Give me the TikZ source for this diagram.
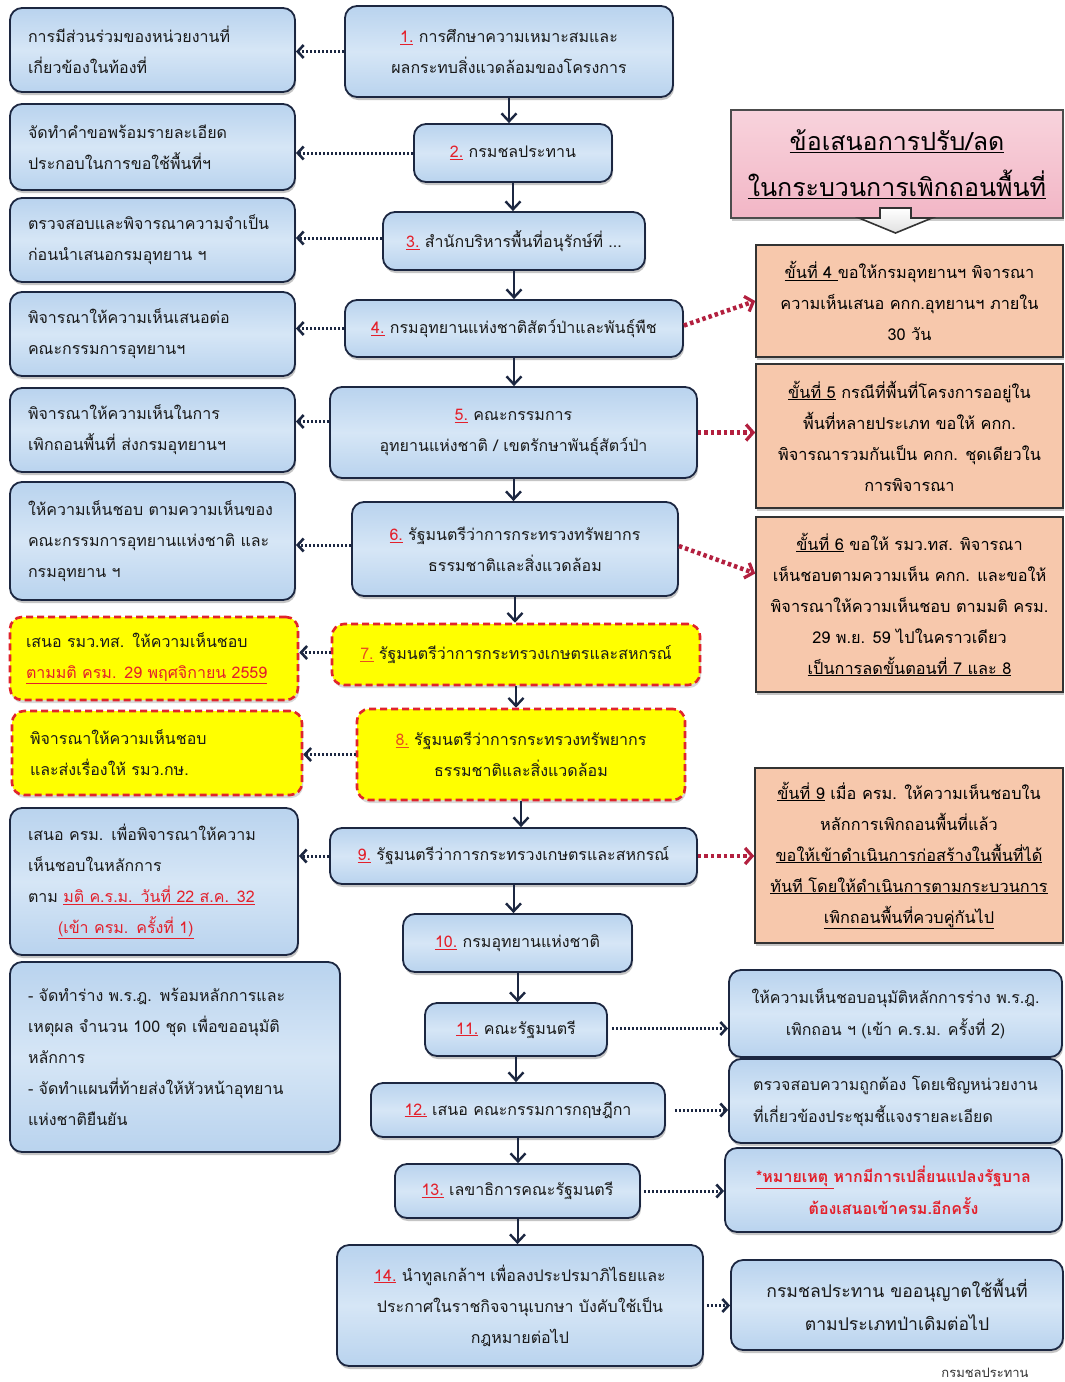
\documentclass[tikz,border=0pt]{standalone}
\usepackage{fontspec}
\setmainfont{Loma}[Script=Thai]
\usetikzlibrary{arrows.meta,shadows}
\definecolor{bfill}{HTML}{B9D3EE}
\definecolor{bfillL}{HTML}{D6E6F6}
\definecolor{navy}{HTML}{1C2741}
\definecolor{ylw}{HTML}{FFFF00}
\definecolor{dred}{HTML}{E0242C}
\definecolor{salmon}{HTML}{F7C8AC}
\definecolor{pinkc}{HTML}{F2B6C6}
\definecolor{pinkL}{HTML}{F8D3DC}
\definecolor{arrred}{HTML}{B3203F}
\definecolor{numred}{HTML}{E3202B}
\definecolor{numorg}{HTML}{E8501E}
\newcommand\stepno[1]{\textcolor{numred}{\underline{#1}}}
\newcommand\stepnoy[1]{\textcolor{numorg}{\underline{#1}}}
\newcommand\redul[1]{\textcolor{numred}{\underline{#1}}}
\begin{document}
\begin{tikzpicture}[x=1pt,y=-1pt,
  bluebox/.style={draw=navy, line width=1.8pt, rounded corners=12pt,
    top color=bfill, bottom color=bfill, middle color=bfillL,
    drop shadow={shadow xshift=1pt, shadow yshift=-3pt, fill=black!45},
    inner ysep=0pt, font=\fontsize{16}{31}\selectfont, text=black!90},
  lbox/.style={bluebox, align=left, inner xsep=18pt},
  cbox/.style={bluebox, align=center, inner xsep=6pt},
  ybox/.style={draw=dred, line width=2.6pt, dashed, dash pattern=on 7pt off 4pt,
    rounded corners=12pt, fill=ylw,
    drop shadow={shadow xshift=1pt, shadow yshift=-3pt, fill=black!30},
    inner ysep=0pt, font=\fontsize{16}{31}\selectfont, text=black!90},
  sbox/.style={draw=black!80, line width=1.6pt, fill=salmon,
    drop shadow={shadow xshift=1pt, shadow yshift=-3pt, fill=black!45},
    align=center, inner sep=0pt, font=\fontsize{16.3}{31}\selectfont},
  rbox/.style={bluebox, align=center, inner xsep=6pt, font=\fontsize{16}{32}\selectfont},
  darr/.style={navy, line width=3pt, dash pattern=on 2pt off 2pt,
    -{Straight Barb[length=6pt,width=13pt,line width=2.6pt]}},
  rarr/.style={arrred, line width=4.5pt, dash pattern=on 3.5pt off 3pt,
    -{Straight Barb[length=7pt,width=16pt,line width=3.2pt]}},
  varr/.style={navy, line width=2pt, -{Straight Barb[length=8pt,width=15pt,line width=2.4pt]}}
]
\useasboundingbox (0,0) rectangle (1065,1382);
\fill[white] (0,0) rectangle (1065,1382);

% ---------- left column ----------
\node[lbox, text width=249, minimum height=84] (L1) at (152.5,50)
  {การมีส่วนร่วมของหน่วยงานที่\\เกี่ยวข้องในท้องที่};
\node[lbox, text width=249, minimum height=86] (L2) at (152.5,147)
  {จัดทำคำขอพร้อมรายละเอียด\\ประกอบในการขอใช้พื้นที่ฯ};
\node[lbox, text width=249, minimum height=84] (L3) at (152.5,240)
  {ตรวจสอบและพิจารณาความจำเป็น\\ก่อนนำเสนอกรมอุทยาน ฯ};
\node[lbox, text width=249, minimum height=84] (L4) at (152.5,334)
  {พิจารณาให้ความเห็นเสนอต่อ\\คณะกรรมการอุทยานฯ};
\node[lbox, text width=249, minimum height=84] (L5) at (152.5,430)
  {พิจารณาให้ความเห็นในการ\\เพิกถอนพื้นที่ ส่งกรมอุทยานฯ};
\node[lbox, text width=249, minimum height=118] (L6) at (152.5,541)
  {ให้ความเห็นชอบ ตามความเห็นของ\\คณะกรรมการอุทยานแห่งชาติ และ\\กรมอุทยาน ฯ};
\node[ybox, align=left, inner xsep=16pt, text width=256, minimum height=83] (L7) at (154,658.5)
  {เสนอ รมว.ทส. ให้ความเห็นชอบ\\\redul{ตามมติ ครม. 29 พฤศจิกายน 2559}};
\node[ybox, align=left, inner xsep=18pt, text width=254, minimum height=84] (L8) at (157,753)
  {พิจารณาให้ความเห็นชอบ\\และส่งเรื่องให้ รมว.กษ.};
\node[lbox, text width=252, minimum height=147] (L9) at (154,881.5)
  {เสนอ ครม. เพื่อพิจารณาให้ความ\\เห็นชอบในหลักการ\\ตาม \redul{มติ ค.ร.ม. วันที่ 22 ส.ค. 32}\\\hspace*{30pt}\redul{(เข้า ครม. ครั้งที่ 1)}};
\node[lbox, text width=294, minimum height=190] (L10) at (175,1057)
  {- จัดทำร่าง พ.ร.ฎ. พร้อมหลักการและ\\เหตุผล จำนวน 100 ชุด เพื่อขออนุมัติ\\หลักการ\\- จัดทำแผนที่ท้ายส่งให้หัวหน้าอุทยาน\\แห่งชาติยืนยัน};

% ---------- centre column ----------
\node[cbox, minimum width=328, minimum height=91] (C1) at (509,51.5)
  {\stepno{1.} การศึกษาความเหมาะสมและ\\ผลกระทบสิ่งแวดล้อมของโครงการ};
\node[cbox, minimum width=198, minimum height=58] (C2) at (513,153)
  {\stepno{2.} กรมชลประทาน};
\node[cbox, minimum width=262, minimum height=58] (C3) at (514,241)
  {\stepno{3.} สำนักบริหารพื้นที่อนุรักษ์ที่ ...};
\node[cbox, minimum width=338, minimum height=57] (C4) at (514,328.5)
  {\stepno{4.} กรมอุทยานแห่งชาติสัตว์ป่าและพันธุ์พืช};
\node[cbox, minimum width=367, minimum height=91] (C5) at (513.5,432.5)
  {\stepno{5.} คณะกรรมการ\\อุทยานแห่งชาติ / เขตรักษาพันธุ์สัตว์ป่า};
\node[cbox, minimum width=326, minimum height=94] (C6) at (515,549)
  {\stepno{6.} รัฐมนตรีว่าการกระทรวงทรัพยากร\\ธรรมชาติและสิ่งแวดล้อม};
\node[ybox, align=center, minimum width=368, minimum height=61] (C7) at (516,654.5)
  {\stepnoy{7.} รัฐมนตรีว่าการกระทรวงเกษตรและสหกรณ์};
\node[ybox, align=center, minimum width=328, minimum height=91] (C8) at (521,754.5)
  {\stepnoy{8.} รัฐมนตรีว่าการกระทรวงทรัพยากร\\ธรรมชาติและสิ่งแวดล้อม};
\node[cbox, minimum width=367, minimum height=56] (C9) at (513.5,856)
  {\stepno{9.} รัฐมนตรีว่าการกระทรวงเกษตรและสหกรณ์};
\node[cbox, minimum width=229, minimum height=58] (C10) at (517.5,943)
  {\stepno{10.} กรมอุทยานแห่งชาติ};
\node[cbox, minimum width=182, minimum height=53] (C11) at (516,1029.5)
  {\stepno{11.} คณะรัฐมนตรี};
\node[cbox, minimum width=294, minimum height=54] (C12) at (518,1110)
  {\stepno{12.} เสนอ คณะกรรมการกฤษฎีกา};
\node[cbox, minimum width=245, minimum height=54] (C13) at (517.5,1191)
  {\stepno{13.} เลขาธิการคณะรัฐมนตรี};
\node[cbox, minimum width=366, minimum height=121] (C14) at (520,1305.5)
  {\stepno{14.} นำทูลเกล้าฯ เพื่อลงประปรมาภิไธยและ\\ประกาศในราชกิจจานุเบกษา บังคับใช้เป็น\\กฎหมายต่อไป};

% ---------- right column ----------
\node[draw=black!70, line width=1.4pt, top color=pinkL, bottom color=pinkc,
  drop shadow={shadow xshift=1pt, shadow yshift=-3pt, fill=black!40},
  minimum width=332, minimum height=108, align=center, inner sep=0pt,
  font=\fontsize{25}{46}\selectfont] (T) at (897,164)
  {\underline{ข้อเสนอการปรับ/ลด}\\\underline{ในกระบวนการเพิกถอนพื้นที่}};
\filldraw[draw=black!80, line width=1.6pt, top color=white, bottom color=black!12]
  (880,208) -- (911,208) -- (911,218) -- (932,218) -- (895.5,233)
  -- (859,218) -- (880,218) -- cycle;

\node[sbox, minimum width=307, minimum height=112] (R4) at (909.5,301)
  {\underline{ขั้นที่ 4 }ขอให้กรมอุทยานฯ พิจารณา\\ความเห็นเสนอ คกก.อุทยานฯ ภายใน\\30 วัน};
\node[sbox, minimum width=307, minimum height=144] (R5) at (909.5,436)
  {\underline{ขั้นที่ 5} กรณีที่พื้นที่โครงการออยู่ใน\\พื้นที่หลายประเภท ขอให้ คกก.\\พิจารณารวมกันเป็น คกก. ชุดเดียวใน\\การพิจารณา};
\node[sbox, minimum width=307, minimum height=175] (R6) at (909.5,604.5)
  {\underline{ขั้นที่ 6} ขอให้ รมว.ทส. พิจารณา\\เห็นชอบตามความเห็น คกก. และขอให้\\พิจารณาให้ความเห็นชอบ ตามมติ ครม.\\29 พ.ย. 59 ไปในคราวเดียว\\\underline{เป็นการลดขั้นตอนที่ 7 และ 8}};
\node[sbox, minimum width=308, minimum height=175] (R9) at (909,855.5)
  {\underline{ขั้นที่ 9} เมื่อ ครม. ให้ความเห็นชอบใน\\หลักการเพิกถอนพื้นที่แล้ว\\\underline{ขอให้เข้าดำเนินการก่อสร้างในพื้นที่ได้}\\\underline{ทันที โดยให้ดำเนินการตามกระบวนการ}\\\underline{เพิกถอนพื้นที่ควบคู่กันไป}};

\node[rbox, minimum width=333, minimum height=87] (R11) at (895.5,1013.5)
  {ให้ความเห็นชอบอนุมัติหลักการร่าง พ.ร.ฎ.\\เพิกถอน ฯ (เข้า ค.ร.ม. ครั้งที่ 2)};
\node[rbox, align=left, minimum width=333, minimum height=84] (R12) at (895.5,1101)
  {ตรวจสอบความถูกต้อง โดยเชิญหน่วยงาน\\ที่เกี่ยวข้องประชุมชี้แจงรายละเอียด};
\node[rbox, minimum width=337, minimum height=84, text=numred,
  font=\fontsize{16}{32}\selectfont\bfseries] (R13) at (893.5,1190)
  {\underline{*หมายเหตุ }หากมีการเปลี่ยนแปลงรัฐบาล\\ต้องเสนอเข้าครม.อีกครั้ง};
\node[rbox, minimum width=332, minimum height=90, font=\fontsize{17.6}{33}\selectfont] (R14) at (897,1305)
  {กรมชลประทาน ขออนุญาตใช้พื้นที่\\ตามประเภทป่าเดิมต่อไป};

\node[font=\fontsize{13}{15}\selectfont, text=black!80] (foot) at (985,1373) {กรมชลประทาน};

% ---------- vertical flow ----------
\foreach \a/\b in {C1/C2,C2/C3,C3/C4,C4/C5,C5/C6,C6/C7,C7/C8,C8/C9,C9/C10,C10/C11,C11/C12,C12/C13,C13/C14}
  \draw[varr] (\a.south) -- (\a.south |- \b.north);

% ---------- left dotted arrows ----------
\draw[darr] (C1.west) -- (C1.west -| L1.east);
\draw[darr] (C2.west) -- (C2.west -| L2.east);
\draw[darr] ([yshift=3pt]C3.west) -- ([yshift=3pt]C3.west -| L3.east);
\draw[darr] (C4.west) -- (C4.west -| L4.east);
\draw[darr] ([yshift=11pt]C5.west) -- ([yshift=11pt]C5.west -| L5.east);
\draw[darr] ([yshift=4pt]C6.west) -- ([yshift=4pt]C6.west -| L6.east);
\draw[darr] ([yshift=2pt]C7.west) -- ([yshift=2pt]C7.west -| L7.east);
\draw[darr] (C8.west) -- (C8.west -| L8.east);
\draw[darr] (C9.west) -- (C9.west -| L9.east);

% ---------- right red arrows ----------
\draw[rarr] ([yshift=3pt]C4.east) -- (R4.west);
\draw[rarr] (C5.east) -- (C5.east -| R5.west);
\draw[rarr] ([yshift=3pt]C6.east) -- ([yshift=31pt]R6.west);
\draw[rarr] (C9.east) -- (C9.east -| R9.west);

% ---------- right navy arrows ----------
\draw[darr, shorten <=4pt] ([yshift=1pt]C11.east) -- ([yshift=1pt]C11.east -| R11.west);
\draw[darr, shorten <=9pt] (C12.east) -- (C12.east -| R12.west);
\draw[darr, shorten <=3pt] (C13.east) -- (C13.east -| R13.west);
\draw[darr, shorten <=3pt] (C14.east) -- (C14.east -| R14.west);
\end{tikzpicture}
\end{document}
